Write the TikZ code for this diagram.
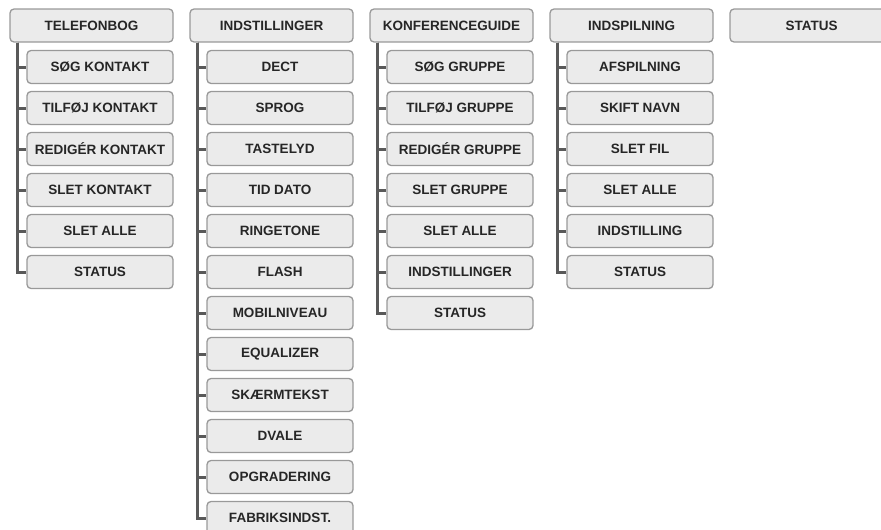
\documentclass[tikz,border=0pt]{standalone}
\usepackage{fontspec}
\setmainfont{Liberation Sans}
\begin{document}
\begin{tikzpicture}[x=1pt,y=-1pt,
    box/.style={draw=black!40,fill=black!8,line width=1.3pt,rounded corners=4pt,inner sep=0pt,
      minimum height=33pt,font=\bfseries\fontsize{13.5}{15}\selectfont,text=black!85},
    head/.style={box,minimum width=163pt},
    item/.style={box,minimum width=146pt},
    tree/.style={draw=black!65,line width=3pt}]
  \useasboundingbox (0,0) rectangle (881,530);
  % menus with sub entries
  \foreach \c/\x/\title/\entries in {
      1/10/TELEFONBOG/{SØG KONTAKT,TILFØJ KONTAKT,REDIGÉR KONTAKT,SLET KONTAKT,SLET ALLE,STATUS},
      2/190/INDSTILLINGER/{DECT,SPROG,TASTELYD,TID DATO,RINGETONE,FLASH,MOBILNIVEAU,EQUALIZER,SKÆRMTEKST,DVALE,OPGRADERING,FABRIKSINDST.},
      3/370/KONFERENCEGUIDE/{SØG GRUPPE,TILFØJ GRUPPE,REDIGÉR GRUPPE,SLET GRUPPE,SLET ALLE,INDSTILLINGER,STATUS},
      4/550/INDSPILNING/{AFSPILNING,SKIFT NAVN,SLET FIL,SLET ALLE,INDSTILLING,STATUS}}{
    \node[head] (h\c) at (\x+81.5,25.5) {\title};
    \foreach \e [count=\k] in \entries {
      \node[item] (c\c-\k) at (\x+90,67+41*\k-41) {\e};
      \draw[tree] ([xshift=8pt]h\c.south west) |- (c\c-\k.west);
    }
  }
  % menu without sub entries
  \node[head] (h5) at (730+81.5,25.5) {STATUS};
\end{tikzpicture}
\end{document}
